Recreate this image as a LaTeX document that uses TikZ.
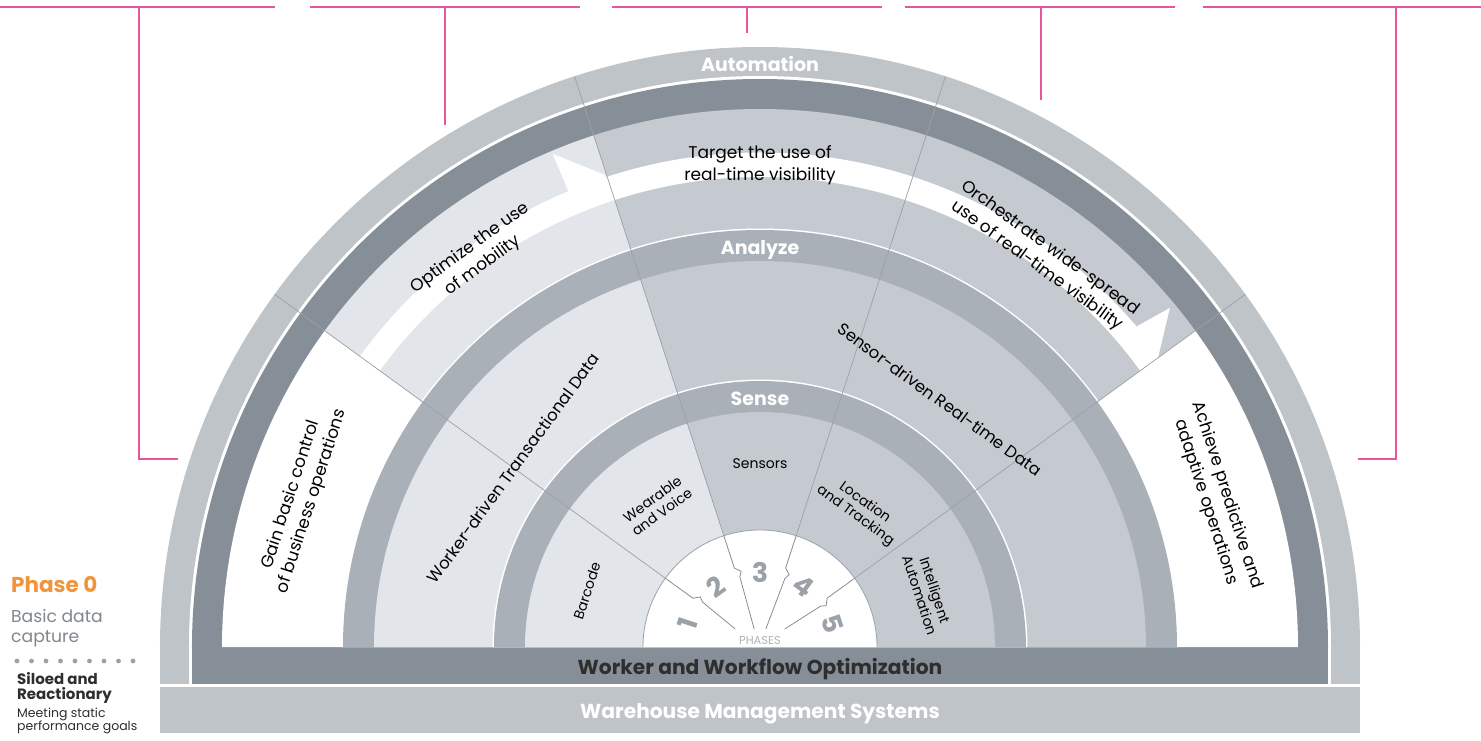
\documentclass[tikz,border=0pt]{standalone}
\usepackage{fontspec}
\setmainfont{Poppins}
\definecolor{outerband}{HTML}{BFC4C9}
\definecolor{darkband}{HTML}{868F97}
\definecolor{ringband}{HTML}{A9B0B8}
\definecolor{lightreg}{HTML}{E2E5EA}
\definecolor{medreg}{HTML}{C5C9D0}
\definecolor{raycol}{HTML}{9AA1A8}
\definecolor{pinkline}{HTML}{E8559F}
\definecolor{numgray}{HTML}{9AA1A8}
\definecolor{phaseorange}{HTML}{F0953C}
\definecolor{txtgray}{HTML}{80878E}
\definecolor{txtdark}{HTML}{2E2E2E}
\newcommand{\wedgefill}[4]{\fill[#4] (0,0) -- (#1:#3pt) arc[start angle=#1,end angle=#2,radius=#3pt] -- cycle;}
\tikzset{
  bandlabel/.style={text=white, font=\fontsize{19}{22}\selectfont\bfseries, anchor=base, inner sep=0pt},
  barlabel/.style={font=\fontsize{20.2}{22}\selectfont\bfseries, anchor=base, inner sep=0pt},
  phasetext/.style={text=black, font=\fontsize{17}{22}\selectfont, align=center, inner sep=0pt},
  regiontext/.style={text=black, font=\fontsize{16.5}{20}\selectfont, inner sep=0pt},
  sensetext/.style={text=black, font=\fontsize{14}{16}\selectfont, align=center, inner sep=0pt},
  numstyle/.style={text=numgray, font=\fontsize{27}{29}\selectfont\bfseries, inner sep=0pt},
  raystyle/.style={draw=raycol, line width=0.7pt},
  zigstyle/.style={draw=darkband, line width=0.8pt, line join=miter},
  pinkstyle/.style={draw=pinkline, line width=1.2pt},
  sidetext/.style={anchor=base west, inner sep=0pt}
}
\begin{document}
\begin{tikzpicture}[x=1pt,y=1pt]
\useasboundingbox (-760,-93) rectangle (721,647);
% pink brackets
\draw[pinkstyle] (-760,640) -- (-485,640);
\draw[pinkstyle] (-450,640) -- (-180,640);
\draw[pinkstyle] (-148,640) -- (122,640);
\draw[pinkstyle] (145,640) -- (415,640);
\draw[pinkstyle] (443,640) -- (721,640);
\draw[pinkstyle] (-621,640) -- (-621,188) -- (-582,188);
\draw[pinkstyle] (-315,640) -- (-315,522);
\draw[pinkstyle] (-13,640) -- (-13,614);
\draw[pinkstyle] (281,640) -- (281,547);
\draw[pinkstyle] (636,640) -- (636,188) -- (598,188);
% bottom bar
\fill[outerband] (-600,-40) rectangle (600,-86);
% outer band
\wedgefill{0}{180}{600}{outerband}
\fill[outerband] (-600,0) rectangle (600,-37);
\wedgefill{0}{180}{571}{white}
\fill[white] (-571,0) rectangle (571,-37);
\wedgefill{0}{180}{568}{darkband}
\fill[darkband] (-568,0) rectangle (568,-37);
% phase sectors
\wedgefill{144}{180}{538}{white}
\wedgefill{108}{144}{538}{lightreg}
\wedgefill{72}{108}{538}{medreg}
\wedgefill{36}{72}{538}{medreg}
\wedgefill{0}{36}{538}{white}
% white arrow band
\fill[white] (144:470pt) -- (144:494.5pt) arc[start angle=144,end angle=112.8,radius=494.5pt]
  -- (112.8:535pt) -- (108.2:497pt) -- (108.2:494.5pt)
  arc[start angle=108.2,end angle=40.4,radius=494.5pt]
  -- (39.6:532pt) -- (36:492pt) -- (36:470pt)
  arc[start angle=36,end angle=144,radius=470pt] -- cycle;
% analyze ring
\wedgefill{0}{180}{418.5}{white}
\wedgefill{0}{180}{417}{ringband}
\wedgefill{108}{180}{386}{lightreg}
\wedgefill{0}{108}{386}{medreg}
% sense ring
\wedgefill{0}{180}{267.5}{white}
\wedgefill{0}{180}{266}{ringband}
\wedgefill{108}{180}{235}{lightreg}
\wedgefill{0}{108}{235}{medreg}
% rays
\foreach \a in {36,72,108,144} \draw[raystyle] (\a:117pt) -- (\a:600pt);
% phases circle
\fill[white] (117,0) arc[start angle=0,end angle=180,radius=117pt] -- cycle;
\draw[draw=raycol, line width=0.8pt] (117,0) arc[start angle=0,end angle=180,radius=117pt];
\foreach \a/\e in {144/30.6, 108/18.9, 72/18.9, 36/30.6}
  \draw[zigstyle] (\a:117pt) -- (\a:83pt) -- ({\a-4}:78pt) -- ({\a-2}:73pt) -- (\a:\e pt);
\node[numstyle, rotate=72] (n1) at (162:76pt) {1};
\node[numstyle, rotate=36] (n2) at (126:75pt) {2};
\node[numstyle] (n3) at (90:75pt) {3};
\node[numstyle, rotate=-36] (n4) at (54:75pt) {4};
\node[numstyle, rotate=-72] (n5) at (18:76pt) {5};
\node[text=numgray!80, font=\fontsize{11.5}{13}\selectfont, inner sep=0pt] (phases) at (0,7) {PHASES};
% band labels
\node[bandlabel] (automation) at (0,575) {Automation};
\node[bandlabel] (analyze) at (0,392) {Analyze};
\node[bandlabel] (sense) at (0,242) {Sense};
% bars
\node[barlabel, text=txtdark] (worker) at (0,-27) {Worker and Workflow Optimization};
\node[barlabel, text=white] (wms) at (0,-71) {Warehouse Management Systems};
% phase texts
\node[phasetext, rotate=72] (gain) at (162:482pt) {Gain basic control\\of business operations};
\node[phasetext, rotate=36] (optimize) at (126:482pt) {Optimize the use\\of mobility};
\node[phasetext] (target) at (90:482pt) {Target the use of\\real-time visibility};
\node[phasetext, rotate=-36] (orchestrate) at (54:482pt) {Orchestrate wide-spread\\use of real-time visibility};
\node[phasetext, rotate=-72] (achieve) at (18:480pt) {Achieve predictive and\\adaptive operations};
% analyze texts
\node[regiontext, rotate=54] (workerdriven) at (144:305pt) {Worker-driven Transactional Data};
\node[regiontext, rotate=-36] (sensordriven) at (54:306pt) {Sensor-driven Real-time Data};
% sense texts
\node[sensetext, rotate=72] (barcode) at (162:182pt) {Barcode};
\node[sensetext, rotate=36] (wearable) at (126:175pt) {Wearable\\and Voice};
\node[sensetext] (sensors) at (90:183pt) {Sensors};
\node[sensetext, rotate=-36] (location) at (54:170pt) {Location\\and Tracking};
\node[sensetext, rotate=-72] (intelligent) at (18:176pt) {Intelligent\\Automation};
% left legend
\node[sidetext, text=phaseorange, font=\fontsize{21.5}{24}\selectfont\bfseries] (phase0) at (-749,55) {Phase 0};
\node[sidetext, text=txtgray, font=\fontsize{17.2}{20}\selectfont] (basic1) at (-749,25) {Basic data};
\node[sidetext, text=txtgray, font=\fontsize{17.2}{20}\selectfont] (basic2) at (-749,5) {capture};
\foreach \i in {0,...,8} \fill[raycol] ({-743+\i*14.5},-14) circle (2.4pt);
\node[sidetext, text=txtdark, font=\fontsize{15}{17}\selectfont\bfseries] (siloed1) at (-743,-37) {Siloed and};
\node[sidetext, text=txtdark, font=\fontsize{15}{17}\selectfont\bfseries] (siloed2) at (-743,-52) {Reactionary};
\node[sidetext, text=txtdark, font=\fontsize{12.5}{15}\selectfont] (meet1) at (-743,-70) {Meeting static};
\node[sidetext, text=txtdark, font=\fontsize{12.5}{15}\selectfont] (meet2) at (-743,-83) {performance goals};
\end{tikzpicture}
\end{document}
